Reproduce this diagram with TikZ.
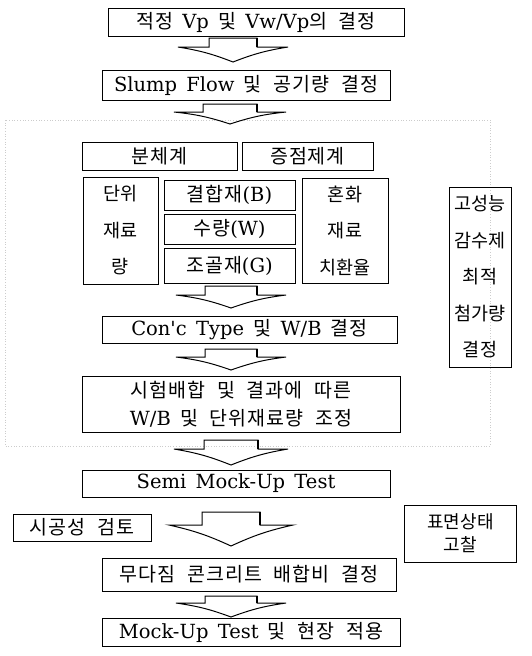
\documentclass[tikz,border=0pt]{standalone}
\usepackage{fontspec}
\usepackage{tikz}
\setmainfont[WordSpace=1.5]{DejaVu Serif}
\newfontfamily\kofont[LetterSpace=5, WordSpace=2.2]{Noto Sans CJK KR}
\newfontfamily\kotight{Noto Sans CJK KR}
\newcommand{\ko}[1]{{\kofont #1}}
\tikzset{
  pics/flowarrow/.style n args={4}{code={
    \draw [black, line width=1pt, line join=miter] (-#1,0) -- (#1,0) -- (#1,-#3) -- (#2,-#3) to[bend right=6] (0,-#4) to[bend right=6] (-#2,-#3) -- (-#1,-#3) -- cycle;
    \draw [black, line width=2.4pt] (#1,0) -- (#1,-#3);
  }}
}

\begin{document}
\begin{tikzpicture}[x=1pt,y=1pt]
\tikzstyle{every node}+=[inner sep=0pt]
\tikzstyle{box}=[draw=black, line width=1pt, font=\fontsize{19.5}{24}\selectfont]
\tikzstyle{kobox}=[box, font=\kofont\fontsize{19.5}{24}\selectfont]
\tikzstyle{tallbox}=[box, align=center, font=\kotight\fontsize{18.5}{36.5}\selectfont]
\useasboundingbox (0,0) rectangle (532,-656);
\draw [gray!40, dotted, line width=0.7pt] (5,-120) rectangle (490,-446);
\node [box, minimum width=296pt, minimum height=28pt] (vp) at (256,-22) {\ko{적정} Vp \ko{및} Vw/Vp\ko{의 결정}};
\pic at (233,-38) {flowarrow={24}{55}{9}{24}};
\node [box, minimum width=288pt, minimum height=30pt] (slump) at (246,-85) {Slump Flow \ko{및 공기량 결정}};
\pic at (230,-104) {flowarrow={27}{56}{8}{20}};
\node [kobox, minimum width=155pt, minimum height=28pt] (powder) at (159.5,-156) {분체계};
\node [kobox, minimum width=131pt, minimum height=28pt] (viscous) at (307.5,-156) {증점제계};
\node [tallbox, minimum width=75pt, minimum height=107pt] (unit) at (120.5,-230.5) {단위\\재료\\량};
\node [box, minimum width=131pt, minimum height=30pt] (binder) at (229.5,-195) {\ko{결합재}(B)};
\node [box, minimum width=131pt, minimum height=30pt] (water) at (229.5,-229) {\ko{수량}(W)};
\node [box, minimum width=131pt, minimum height=35pt] (gravel) at (229.5,-265.5) {\ko{조골재}(G)};
\node [tallbox, minimum width=86pt, minimum height=105pt] (admix) at (345,-230.5) {혼화\\재료\\치환율};
\node [tallbox, minimum width=62pt, minimum height=180pt] (sp) at (480,-277) {고성능\\감수제\\최적\\첨가량\\결정};
\pic at (231,-286) {flowarrow={26}{55}{9}{22}};
\node [box, minimum width=295pt, minimum height=27pt] (conc) at (249.5,-329.5) {Con\textquotesingle c Type \ko{및} W/B \ko{결정}};
\pic at (231,-349) {flowarrow={26}{55}{8}{21}};
\node [box, align=center, minimum width=318pt, minimum height=56pt, font=\fontsize{19.5}{28}\selectfont] (trial) at (241,-404) {\ko{시험배합 및 결과에 따른}\\W/B \ko{및 단위재료량 조정}};
\pic at (231,-440) {flowarrow={27}{57}{9}{25}};
\node [box, minimum width=308pt, minimum height=27pt] (semi) at (236,-483.5) {Semi Mock-Up Test};
\node [kobox, minimum width=138pt, minimum height=27pt] (work) at (82,-527.5) {시공성 검토};
\node [box, align=center, minimum width=112pt, minimum height=57pt, font=\kotight\fontsize{18}{23}\selectfont] (surface) at (460.5,-533.5) {표면상태\\고찰};
\pic at (231,-512) {flowarrow={29}{62}{13}{34}};
\node [kobox, minimum width=294pt, minimum height=33pt] (mix) at (249,-574.5) {무다짐 콘크리트 배합비 결정};
\pic at (231,-596) {flowarrow={26}{55}{7}{21}};
\node [box, minimum width=298pt, minimum height=28pt] (mock) at (251,-632) {Mock-Up Test \ko{및 현장 적용}};
\end{tikzpicture}
\end{document}
